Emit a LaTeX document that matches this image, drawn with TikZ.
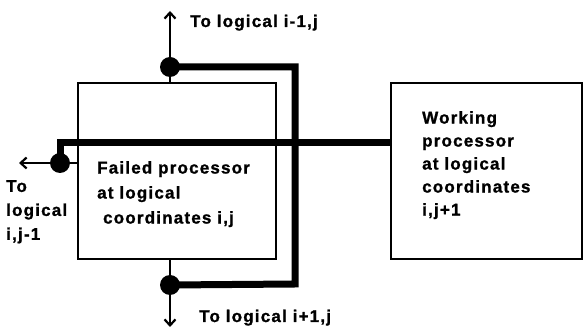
\documentclass[tikz,border=0pt]{standalone}
\usepackage{fontspec}
\setmainfont{Liberation Sans}[LetterSpace=7,FakeBold=1.2]
\usetikzlibrary{arrows.meta}
\begin{document}
\begin{tikzpicture}[x=1pt,y=-1pt,
  procbox/.style={draw,line width=2.8pt},
  thin/.style={line width=2.4pt},
  thick/.style={line width=7pt,line cap=rect},
  arr/.style={thin,-{Straight Barb[length=6pt,width=11pt,line width=2.2pt]}},
  junction/.style={circle,fill,inner sep=0pt,minimum size=20pt},
  lbl/.style={font=\fontsize{17}{24}\selectfont\bfseries,inner sep=0pt,anchor=base west}]
\useasboundingbox (0,0) rectangle (584,328);
% boxes
\draw[procbox] (78,83) rectangle (276,259);
\draw[procbox] (391,83) rectangle (582,259);
\coordinate (ftop) at (170,83);
\coordinate (fbot) at (170,259);
\coordinate (fleft) at (78,163);
\coordinate (wleft) at (391,143);
% junction dots
\node[junction] (dtop) at (170,67) {};
\node[junction] (dbot) at (170,285) {};
\node[junction] (dleft) at (60,163) {};
% arrow ends
\coordinate (atop) at (170,11);
\coordinate (abot) at (170,327);
\coordinate (aleft) at (19,163);
% thin lines with arrows
\draw[arr] (ftop) -- (atop);
\draw[arr] (fbot) -- (abot);
\draw[arr] (fleft) -- (aleft);
% thick bypass lines
\draw[thick] (dtop.center) -- (295,67) -- (295,284) -- (dbot.center);
\draw[thick,line cap=butt] (dleft.center) -- (60,143) -- (wleft);
% labels
\node[lbl] (t1) at (190,27) {To logical i-1,j};
\node[lbl] (t2) at (199,322) {To logical i+1,j};
\node[lbl,align=left,anchor=north west] (t3) at (6,180) {To\\logical\\i,j-1};
\node[lbl,align=left,anchor=north west,font=\fontsize{17}{25}\selectfont\bfseries] (f) at (97,161) {Failed processor\\at logical\\\ coordinates i,j};
\node[lbl,align=left,anchor=north west,font=\fontsize{17}{23}\selectfont\bfseries] (w) at (422,111) {Working\\processor\\at logical\\coordinates\\i,j+1};
\end{tikzpicture}
\end{document}
